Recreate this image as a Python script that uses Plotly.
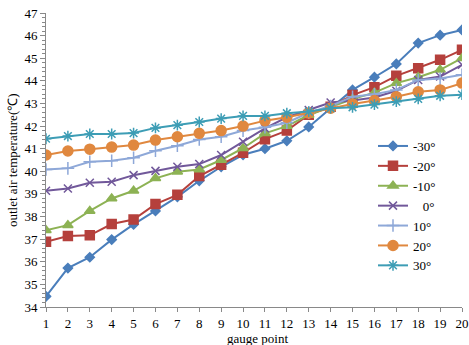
import plotly.graph_objects as go

gauge_points = list(range(1, 21))

t_m30 = [34.47, 35.72, 36.20, 36.98, 37.65, 38.25, 38.87, 39.58, 40.20, 40.73,
         41.00, 41.35, 41.96, 42.79, 43.60, 44.16, 44.75, 45.67, 46.02, 46.25]
t_m20 = [36.88, 37.14, 37.17, 37.67, 37.87, 38.55, 38.96, 39.79, 40.29, 40.82,
         41.42, 41.80, 42.50, 42.86, 43.37, 43.72, 44.22, 44.56, 44.93, 45.37]
t_m10 = [37.39, 37.62, 38.25, 38.80, 39.14, 39.69, 39.98, 40.08, 40.50, 41.02,
         41.68, 42.00, 42.49, 42.86, 43.20, 43.48, 43.90, 44.16, 44.49, 45.00]
t_0 = [39.14, 39.24, 39.49, 39.54, 39.83, 40.02, 40.20, 40.32, 40.72, 41.31,
       41.90, 42.39, 42.71, 43.04, 43.13, 43.26, 43.56, 44.04, 44.19, 44.71]
t_10 = [40.08, 40.13, 40.42, 40.47, 40.60, 40.91, 41.13, 41.41, 41.53, 41.80,
        41.95, 42.15, 42.59, 42.89, 43.30, 43.41, 43.60, 44.04, 44.10, 44.27]
t_20 = [40.72, 40.90, 40.98, 41.07, 41.16, 41.38, 41.53, 41.68, 41.80, 42.00,
        42.24, 42.39, 42.58, 42.79, 42.98, 43.13, 43.30, 43.52, 43.60, 43.90]
t_30 = [41.44, 41.56, 41.65, 41.65, 41.69, 41.92, 42.04, 42.18, 42.33, 42.45,
        42.45, 42.57, 42.64, 42.79, 42.83, 42.95, 43.08, 43.20, 43.34, 43.39]

series_names = ["-30°", "-20°", "-10°", "\u00a0\u00a0 0°", "10°", "20°", "30°"]
series_values = [t_m30, t_m20, t_m10, t_0, t_10, t_20, t_30]

colors = ["#4A7EBB", "#B5403C", "#8DB254", "#71589A", "#8EA8D8", "#E0883F", "#3D9DB5"]
symbols = ["diamond", "square", "triangle-up", "x-thin-open", "cross-thin-open", "circle", "asterisk-open"]
sizes = [7, 9, 9, 8, 9, 10, 9]

FONT = "Liberation Serif, Times New Roman, serif"

L, R, T, B = 46, 7, 13, 38
W, H = 469, 345
PW, PH = W - L - R, H - T - B

fig = go.Figure()
for name, vals, c, s, sz in zip(series_names, series_values, colors, symbols, sizes):
    fig.add_trace(go.Scatter(
        x=gauge_points, y=vals, name=name, mode="lines+markers",
        line=dict(color=c, width=2),
        marker=dict(symbol=s, size=sz, color=c, line=dict(color=c, width=1.5)),
    ))

fig.update_layout(
    width=W, height=H,
    margin=dict(l=L, r=R, t=T, b=B, autoexpand=False),
    paper_bgcolor="white", plot_bgcolor="white",
    font=dict(family=FONT, size=13, color="#000000"),
    showlegend=True,
    legend=dict(
        x=(373 - L) / PW, y=(H - B - 131) / PH, xref="paper", yref="paper",
        xanchor="left", yanchor="top",
        font=dict(family=FONT, size=13, color="#000000"),
        bgcolor="rgba(0,0,0,0)", tracegroupgap=0,
    ),
    xaxis=dict(
        range=[1, 20], tickmode="array", tickvals=gauge_points,
        ticktext=[str(v) for v in gauge_points],
        showgrid=False, zeroline=False, automargin=False,
        showline=True, linecolor="#898989", linewidth=1,
        ticks="outside", ticklen=4, tickcolor="#898989",
        tickfont=dict(family=FONT, size=13), fixedrange=True,
    ),
    yaxis=dict(
        range=[34, 47], dtick=1, tick0=34, automargin=False,
        showgrid=False, zeroline=False,
        showline=True, linecolor="#898989", linewidth=1,
        ticks="outside", ticklen=5, tickcolor="#898989",
        minor=dict(dtick=0.2, ticks="outside", ticklen=3, tickcolor="#898989", showgrid=False),
        tickfont=dict(family=FONT, size=13),
    ),
    annotations=[
        dict(text="gauge point", xref="paper", yref="paper", x=(257 - L) / PW, y=-(338 - (H - B)) / PH,
             xanchor="center", yanchor="middle", showarrow=False,
             font=dict(family=FONT, size=13)),
        dict(text="outlet air temperature(℃)", xref="paper", yref="paper",
             x=-(L - 12) / PW, y=0.5, xanchor="center", yanchor="middle", textangle=-90,
             showarrow=False, font=dict(family=FONT, size=13)),
    ],
)

fig.write_html(
    "out.html",
    config={"displayModeBar": False},
    post_script="document.body.style.margin='0';document.body.style.overflow='hidden';",
)
